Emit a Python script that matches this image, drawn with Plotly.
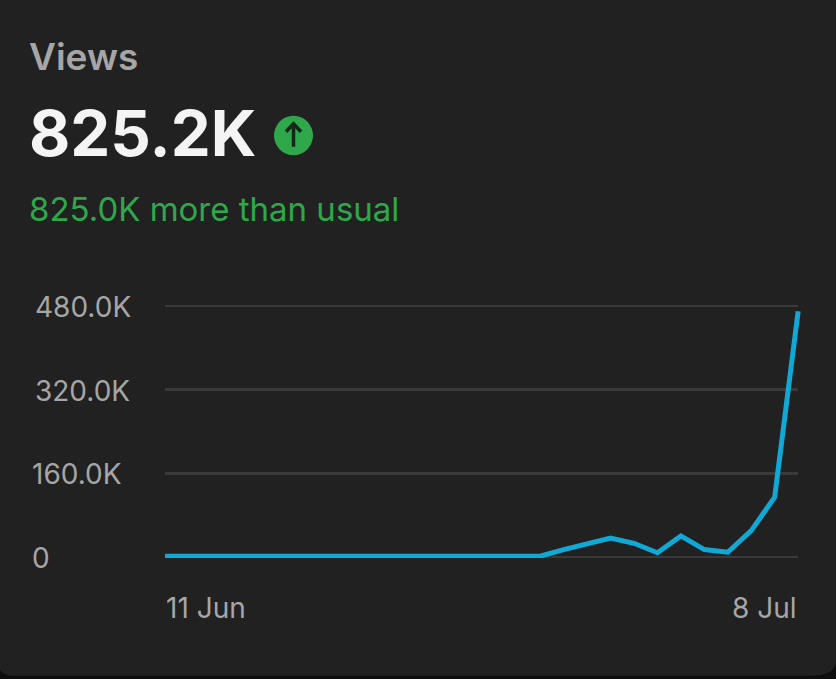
import plotly.graph_objects as go

W, H = 836, 679

# ----------------------------
# Data
# ----------------------------
dates = [
    "2025-06-11", "2025-06-12", "2025-06-13", "2025-06-14", "2025-06-15", "2025-06-16", "2025-06-17",
    "2025-06-18", "2025-06-19", "2025-06-20", "2025-06-21", "2025-06-22", "2025-06-23", "2025-06-24",
    "2025-06-25", "2025-06-26", "2025-06-27", "2025-06-28", "2025-06-29", "2025-06-30", "2025-07-01",
    "2025-07-02", "2025-07-03", "2025-07-04", "2025-07-05", "2025-07-06", "2025-07-07", "2025-07-08",
]
views = [
    2500, 2500, 2500, 2500, 2500, 2500, 2500,
    2500, 2500, 2500, 2500, 2500, 2500, 2500,
    2500, 2500, 2500, 15000, 27000, 37000, 27000,
    9000, 41000, 15000, 10000, 51000, 115000, 469000,
]
y_ticks = [0, 160000, 320000, 480000]
y_labels = ["0", "160.0K", "320.0K", "480.0K"]
y_label_left = [31, 31, 34, 34]
x_ticks = ["2025-06-11", "2025-07-08"]
x_labels = ["11 Jun", "8 Jul"]
x_anchors = ["left", "right"]

# ----------------------------
# Colors
# ----------------------------
CARD = "#212121"
OUTSIDE = "#0e0e0e"
GRID = "#3a3a3a"
LINE = "#10a8d4"
GREEN = "#2ea84a"
MUTED = "#a6a6a6"
FONT = "Inter"

# plot area in pixels, a little wider than the grid so the last segment isn't cut
L, R, T, B = 165, 804, 305.2, 558.2
GRID_RIGHT = 798


def px(x):
    return (x - L) / (R - L)


def py(y):
    return (B - y) / (B - T)


fig = go.Figure()

# ----------------------------
# Card and arrow badge
# ----------------------------
card_path = (
    f"M {px(-5)} {py(-5)} L {px(841)} {py(-5)} L {px(841)} {py(664)} L {px(836)} {py(664)} "
    f"Q {px(832)} {py(676)} {px(812)} {py(676)} L {px(14)} {py(676)} "
    f"Q {px(4)} {py(676)} {px(0)} {py(670)} L {px(-5)} {py(670)} Z"
)
fig.add_shape(type="path", path=card_path, xref="paper", yref="paper",
              fillcolor=CARD, line_width=0, layer="below")

# grid as shapes: plotly drops axis gridlines that sit on the range edge
for val in y_ticks:
    fig.add_shape(type="line", xref="paper", yref="y",
                  x0=px(L), x1=px(GRID_RIGHT), y0=val, y1=val,
                  line=dict(color=GRID, width=3), layer="below")

fig.add_shape(type="circle", xref="paper", yref="paper",
              x0=px(274), x1=px(313), y0=py(155.5), y1=py(116),
              fillcolor=GREEN, line_width=0)
fig.add_shape(type="path", xref="paper", yref="paper",
              path=(f"M {px(293.5)} {py(147)} L {px(293.5)} {py(124)} "
                    f"M {px(286)} {py(132)} L {px(293.5)} {py(124)} L {px(301)} {py(132)}"),
              line=dict(color="#16261a", width=3.5))

fig.add_trace(
    go.Scatter(
        x=dates,
        y=views,
        mode="lines",
        line=dict(color=LINE, width=5),
        hoverinfo="skip",
    )
)

# ----------------------------
# Text
# ----------------------------
texts = [
    ("Views", 28, 56.5, 37, MUTED, 600),
    ("825.2K", 28, 133, 63.5, "#f4f4f4", 700),
    ("825.0K more than usual", 28, 209, 33, GREEN, 400),
]
for text, x, y, size, color, weight in texts:
    fig.add_annotation(
        text=text, xref="paper", yref="paper", x=px(x), y=py(y),
        xanchor="left", yanchor="middle", showarrow=False, borderpad=0,
        font=dict(family=FONT, size=size, color=color, weight=weight),
    )

# axis labels are annotations: the reference left-aligns them, which tick labels can't do
for val, label, left in zip(y_ticks, y_labels, y_label_left):
    fig.add_annotation(
        text=label, xref="paper", yref="y", x=px(left), y=val, yshift=-1,
        xanchor="left", yanchor="middle", showarrow=False, borderpad=0,
        font=dict(family=FONT, size=28, color=MUTED),
    )
for val, label, anchor in zip(x_ticks, x_labels, x_anchors):
    fig.add_annotation(
        text=label, xref="x", yref="paper", x=val, y=py(608),
        xanchor=anchor, yanchor="middle", showarrow=False, borderpad=0,
        font=dict(family=FONT, size=28, color=MUTED),
    )

# ----------------------------
# Layout
# ----------------------------
fig.update_layout(
    width=W,
    height=H,
    margin=dict(l=L, r=W - R, t=T, b=H - B, pad=0),
    paper_bgcolor=OUTSIDE,
    plot_bgcolor="rgba(0,0,0,0)",
    showlegend=False,
    font=dict(family=FONT, size=28, color=MUTED),
    xaxis=dict(
        range=[dates[0], "2025-07-08 06:00"],
        showticklabels=False, automargin=False,
        showgrid=False, zeroline=False, showline=False, ticks="",
    ),
    yaxis=dict(
        range=[-1000, 481000],
        showticklabels=False, automargin=False,
        showgrid=False, zeroline=False, showline=False, ticks="",
    ),
)

fig.write_html("out.html", config=dict(displayModeBar=False),
               post_script="document.body.style.margin='0';")
